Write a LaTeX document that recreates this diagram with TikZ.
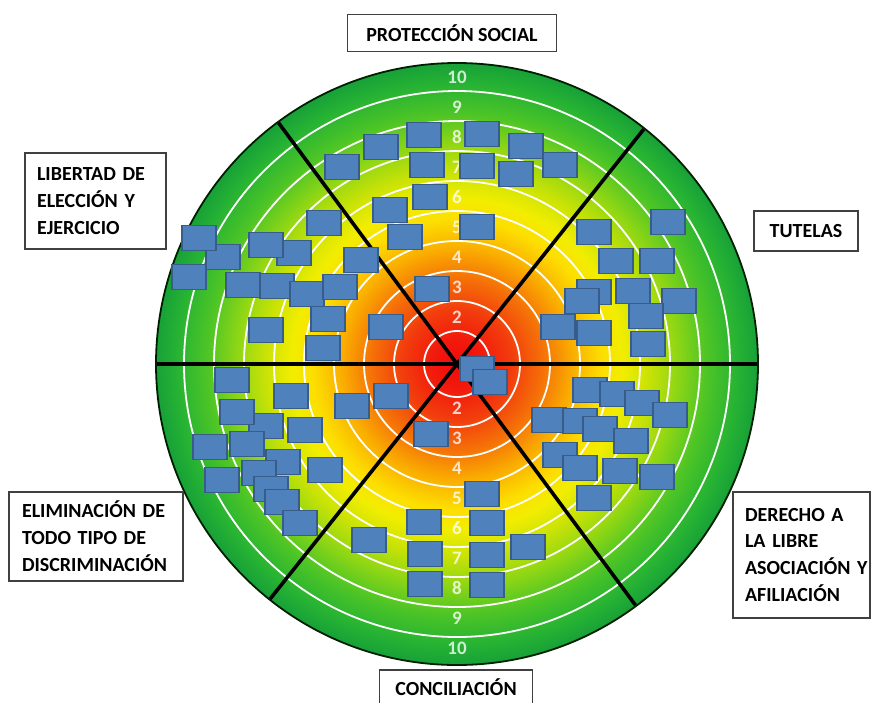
\documentclass[tikz,border=0pt]{standalone}
\usepackage{fontspec}
\setmainfont{Carlito}
\pgfdeclareradialshading{target}{\pgfpoint{0bp}{0bp}}{%
rgb(0bp)=(0.95,0.04,0.04);
rgb(2.1bp)=(0.95,0.10,0.05);
rgb(4.6bp)=(0.95,0.24,0.05);
rgb(7.1bp)=(0.96,0.44,0.03);
rgb(9.6bp)=(0.98,0.68,0.0);
rgb(12bp)=(0.99,0.87,0.0);
rgb(13.7bp)=(0.95,0.93,0.0);
rgb(15.8bp)=(0.80,0.89,0.02);
rgb(18.3bp)=(0.56,0.84,0.08);
rgb(20.8bp)=(0.30,0.77,0.15);
rgb(23.3bp)=(0.15,0.70,0.20);
rgb(25bp)=(0.09,0.63,0.22);
rgb(50bp)=(0.09,0.63,0.22)}
\definecolor{boxblue}{HTML}{4F81BD}
\definecolor{boxedge}{HTML}{385D8A}
\tikzset{
  ringline/.style={white, line width=1.8pt},
  divider/.style={black, line width=3.6pt},
  rimline/.style={draw=black!70!green!40!black, line width=1.8pt},
  num/.style={text=white, text opacity=0.78, font=\fontsize{19}{19}\selectfont\bfseries, inner sep=0pt},
  bluebox/.style={draw=boxedge, fill=boxblue, line width=1.3pt, minimum width=34pt, minimum height=25pt, inner sep=0pt},
  lab/.style={draw=black!75, fill=white, line width=1.4pt, font=\fontsize{20}{27}\selectfont\bfseries, inner ysep=4pt},
}
\begin{document}
\begin{tikzpicture}[x=1pt,y=-1pt]
\useasboundingbox (0,0) rectangle (875,702);
\fill[white] (0,0) rectangle (875,702);
\coordinate (O) at (457,364);
\shade[shading=target] (O) circle[radius=301pt];
\foreach \r in {33,63,93,123,153,183,213,243,273}
  \draw[ringline] (O) circle[radius=\r pt];
\draw[rimline] (O) circle[radius=301pt];
\foreach \a/\b/\n in {0/180/h,51.5/231.5/p,126.5/306.5/q}{
  \path (O) ++(\a:300pt) coordinate (\n1) (O) ++(\b:300pt) coordinate (\n2);
  \draw[divider] (\n1) -- (O) -- (\n2);
}
\foreach \k in {2,...,10}{
  \node[num] (t\k) at (457,{364-(30*\k-13)}) {\k};
  \node[num] (u\k) at (457,{364+30*\k-16}) {\k};
}
\foreach \x/\y [count=\i] in {
 424/135, 482/134, 381/147, 526/146, 342/167, 427/165, 477/166, 516/174, 560/165,
 430/197, 390/210, 324/223, 405/237, 477/227, 432/289, 386/327,
 223/257, 199/238, 189/277, 294/253, 266/245, 243/285, 277/286, 307/294, 340/287, 361/260,
 266/330, 328/319, 323/348,
 594/232, 668/222, 616/261, 657/261, 594/292, 582/301, 633/291, 679/301, 646/316,
 558/327, 594/333, 648/344,
 477/369, 490/382,
 232/380, 291/396, 352/406, 391/396, 266/426, 237/412, 305/430, 210/447, 247/444,
 283/462, 259/473, 271/489, 282/502, 300/523, 325/470, 222/480, 431/434,
 482/494, 424/522, 487/523, 369/540, 425/554, 487/555, 528/547, 425/584, 487/585,
 590/390, 617/394, 642/403, 670/415, 549/420, 580/421, 600/429, 631/441,
 560/455, 580/468, 620/471, 657/477, 594/498}
  \node[bluebox] (b\i) at (\x,\y) {};
\node[lab, minimum width=209pt, minimum height=37pt] (prot) at (452,33) {PROTECCIÓN SOCIAL};
\node[lab, minimum width=104pt, minimum height=40pt] (tut) at (806,231) {TUTELAS};
\node[lab, minimum width=153pt, minimum height=34pt] (conc) at (456,687) {CONCILIACIÓN};
\node[lab, align=left, text width=117pt, inner xsep=12pt, minimum height=96pt] (lib) at (95.5,201)
  {LIBERTAD~DE\\ELECCIÓN~Y\\EJERCICIO};
\node[lab, align=left, text width=148pt, inner xsep=13pt, minimum height=89pt] (elim) at (96,536.5)
  {ELIMINACIÓN~DE\\TODO~TIPO~DE\\DISCRIMINACIÓN};
\node[lab, align=left, text width=113pt, inner xsep=12pt, minimum height=126pt] (der) at (801.5,555)
  {DERECHO~A\\LA~LIBRE\\ASOCIACIÓN~Y\\AFILIACIÓN};
\end{tikzpicture}
\end{document}
